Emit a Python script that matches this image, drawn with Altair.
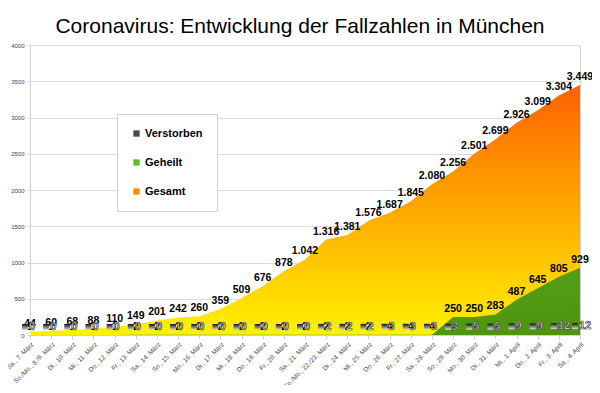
import altair as alt
import pandas as pd

tage = [
    "Sa., 7. März", "So./Mo., 8./9. März", "Di., 10. März", "Mi., 11. März",
    "Do., 12. März", "Fr., 13. März", "Sa., 14. März", "So., 15. März",
    "Mo., 16. März", "Di., 17. März", "Mi., 18. März", "Do., 19. März",
    "Fr., 20. März", "Sa., 21. März", "So./Mo., 22./23. März", "Di., 24. März",
    "Mi., 25. März", "Do., 26. März", "Fr., 27. März", "Sa., 28. März",
    "So., 29. März", "Mo., 30. März", "Di., 31. März", "Mi., 1. April",
    "Do., 2. April", "Fr., 3. April", "Sa., 4. April",
]
gesamt = [44, 60, 68, 88, 110, 149, 201, 242, 260, 359, 509, 676, 878, 1042,
          1316, 1381, 1576, 1687, 1845, 2080, 2256, 2501, 2699, 2926, 3099, 3304, 3449]
geheilt = [1, 1, 1, 1, 1, 2, 2, 2, 2, 2, 2, 2, 2, 2,
           2, 2, 2, 4, 4, 4, 250, 250, 283, 487, 645, 805, 929]
verstorben = [0, 0, 0, 0, 0, 0, 0, 0, 0, 0, 0, 0, 0, 0,
              2, 2, 2, 3, 3, 3, 3, 5, 5, 9, 9, 12, 12]
y_ticks = [0, 500, 1000, 1500, 2000, 2500, 3000, 3500, 4000]
serien = ["Verstorben", "Geheilt", "Gesamt"]
serien_farben = ["#4a4a4a", "#66bb22", "#ff8a00"]

df = pd.DataFrame({"tag": tage, "gesamt": gesamt, "geheilt": geheilt,
                   "verstorben": verstorben})
legend_df = pd.DataFrame({"serie": serien})

FONT = "Liberation Sans"

x = alt.X("tag:N", sort=tage, title=None,
          scale=alt.Scale(type="point", padding=0),
          axis=alt.Axis(labelAngle=-45, labelFontSize=6.5, labelColor="#444",
                        labelFont=FONT, tickColor="#d0d0d0", tickSize=4,
                        domainColor="#d0d0d0", grid=False, labelPadding=2,
                        labelOverlap=False, labelBound=False))
y_axis = alt.Axis(values=y_ticks, format="d", labelFontSize=6,
                  labelColor="#444", labelFont=FONT, tickColor="#d9d9d9",
                  tickSize=3, domainColor="#d0d0d0", gridColor="#dcdcdc",
                  labelPadding=3, labelOverlap=False)
yscale = alt.Scale(domain=[0, 4000], nice=False)


def Y(field):
    return alt.Y(field, scale=yscale, axis=y_axis, title=None)


base = alt.Chart(df)

area_gesamt = base.mark_area(
    fill=alt.Gradient(gradient="linear",
                      stops=[alt.GradientStop(color="#fff200", offset=0),
                             alt.GradientStop(color="#ff6000", offset=1)],
                      x1=0, x2=0, y1=1, y2=0)
).encode(x=x, y=Y("gesamt:Q"))

area_geheilt = base.mark_area(
    fill=alt.Gradient(gradient="linear",
                      stops=[alt.GradientStop(color="#5aa81c", offset=0),
                             alt.GradientStop(color="#4d9410", offset=1)],
                      x1=0, x2=1, y1=0, y2=1)
).encode(x=x, y=Y("geheilt:Q"))

lab_gesamt = base.transform_calculate(
    lbl="replace(format(datum.gesamt, ','), ',', '.')"
).mark_text(font=FONT, fontSize=10.5, fontWeight="bold", color="black",
            dy=-8, baseline="middle").encode(
    x=x, y=Y("gesamt:Q"), text="lbl:N")

lab_geheilt = base.mark_text(font=FONT, fontSize=10.5, fontWeight="bold",
                             color="black", dy=-8, baseline="middle").encode(
    x=x, y=Y("geheilt:Q"), text="geheilt:Q")

sq_verst = base.mark_square(
    size=36, opacity=1, xOffset=-5, yOffset=-8,
    fill=alt.Gradient(gradient="linear",
                      stops=[alt.GradientStop(color="#111111", offset=0),
                             alt.GradientStop(color="#dddddd", offset=1)],
                      x1=0, x2=0, y1=0, y2=1)
).encode(x=x, y=Y("verstorben:Q"))

lab_verst = base.mark_text(font=FONT, fontSize=11, fontWeight="bold",
                           fill="white", stroke="#333333", strokeWidth=0.7,
                           align="left", dx=-1, dy=-8, baseline="middle").encode(
    x=x, y=Y("verstorben:Q"), text="verstorben:Q")

legend_layer = alt.Chart(legend_df).mark_square(opacity=0).encode(
    x=alt.value(0), y=alt.value(0),
    color=alt.Color("serie:N",
                    scale=alt.Scale(domain=serien, range=serien_farben),
                    legend=alt.Legend(title=None, orient="none", legendX=87,
                                      legendY=69, padding=14, rowPadding=17,
                                      labelFont=FONT, labelFontSize=11,
                                      labelFontWeight="bold", labelColor="black",
                                      symbolType="square", symbolSize=40,
                                      symbolOpacity=1, symbolStrokeWidth=0,
                                      labelOffset=3, strokeColor="#d0d0d0",
                                      fillColor="white", direction="vertical")))

chart = alt.layer(
    area_gesamt, area_geheilt, lab_gesamt, lab_geheilt, sq_verst, lab_verst,
    legend_layer
).properties(
    width=550, height=290,
    title=alt.TitleParams("Coronavirus: Entwicklung der Fallzahlen in München",
                          font=FONT, fontSize=21, fontWeight="normal",
                          color="black", anchor="middle", dx=-5, offset=5),
    autosize=alt.AutoSizeParams(type="none"),
    padding={"left": 22, "top": 37, "right": 12, "bottom": 50},
    background="white",
).configure_view(stroke="#d0d0d0")

chart.save("out.html", embed_options={"renderer": "svg", "actions": False})
